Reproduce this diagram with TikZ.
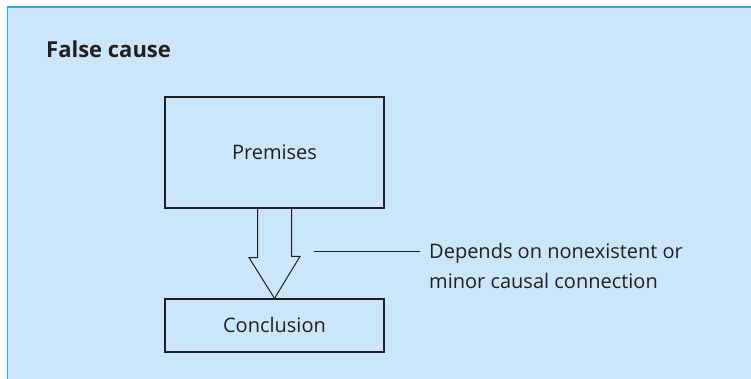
\documentclass[tikz,border=0pt]{standalone}
\usepackage{fontspec}
\setmainfont{Open Sans}
\usepackage{tikz}
\definecolor{panelblue}{RGB}{202,230,248}
\definecolor{panelline}{RGB}{41,171,226}
\definecolor{inkgray}{RGB}{35,31,32}

\begin{document}
\begin{tikzpicture}
  [x=1pt,y=1pt,
   every node/.style={font=\fontsize{20}{30}\selectfont,text=inkgray},
   box/.style={draw=inkgray,line width=1.2pt,inner sep=0pt},
   hollow/.style={draw=inkgray,line width=1pt,line join=miter}]
  \useasboundingbox (0,0) rectangle (751,379);
  \fill[panelblue] (7.5,-10) rectangle (770,372);
  \draw[panelline,line width=1.6pt] (7.5,-10) -- (7.5,372) -- (770,372);

  \node[anchor=base west,inner sep=0pt,font=\fontsize{22}{30}\selectfont\bfseries] (title) at (46,321.5) {False cause};
  \node[box,minimum width=219pt,minimum height=111pt] (prem)  at (274.5,226.5) {Premises};
  \node[box,minimum width=219pt,minimum height=53pt]  (concl) at (274.5,53.5)  {Conclusion};
  \node[anchor=base west,inner sep=0pt,align=left] (note) at (429,90)
    {Depends on nonexistent or\\minor causal connection};
  \coordinate (tick) at (314,128);

  \draw[hollow] ([xshift=-17pt]prem.south) -- ++(0,-49) -- ++(-8.5,0) -- (concl.north)
    -- ++(25.5,42) -- ++(-8.5,0) -- ([xshift=17pt]prem.south);
  \draw[inkgray,line width=0.9pt] (tick) -- ([xshift=-9pt]note.west |- tick);

\end{tikzpicture}
\end{document}
